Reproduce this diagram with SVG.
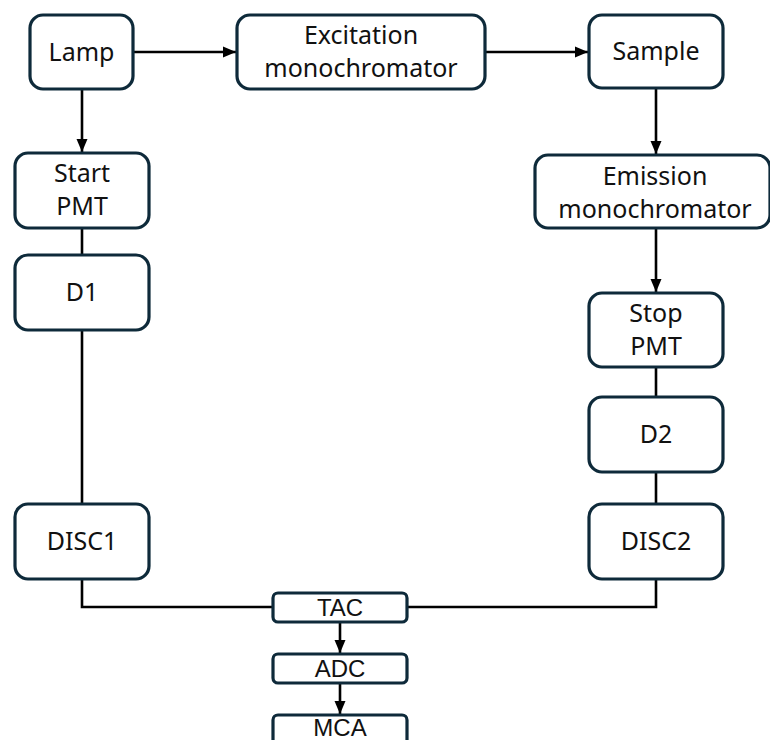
<svg xmlns="http://www.w3.org/2000/svg" width="770" height="740" viewBox="0 0 770 740">
<style>
.box{fill:#fff;stroke:#0e2a3a;stroke-width:3.2}
.t{font-family:"Noto Sans","Open Sans",sans-serif;font-size:25px;fill:#111;text-anchor:middle}
.s{font-family:"Liberation Sans",Arial,sans-serif;font-size:24px;fill:#111;text-anchor:middle}
.c{fill:none;stroke:#000;stroke-width:2.6}
</style>
<defs>
<marker id="ah" markerUnits="userSpaceOnUse" markerWidth="13" markerHeight="13" viewBox="0 0 13 13" refX="13" refY="6.5" orient="auto">
<path d="M0,1 L13,6.5 L0,12 Z" fill="#000"/>
</marker>
</defs>
<rect width="770" height="740" fill="#fff"/>
<g id="connectors">
<line class="c" x1="133" y1="52" x2="236" y2="52" marker-end="url(#ah)"/>
<line class="c" x1="485" y1="52" x2="588" y2="52" marker-end="url(#ah)"/>
<line class="c" x1="82" y1="89" x2="82" y2="152" marker-end="url(#ah)"/>
<line class="c" x1="656" y1="88" x2="656" y2="154" marker-end="url(#ah)"/>
<line class="c" x1="656" y1="228" x2="656" y2="292" marker-end="url(#ah)"/>
<line class="c" x1="82" y1="228" x2="82" y2="255"/>
<line class="c" x1="82" y1="330" x2="82" y2="504"/>
<line class="c" x1="656" y1="367" x2="656" y2="397"/>
<line class="c" x1="656" y1="472" x2="656" y2="504"/>
<path class="c" d="M82,579 V607 H273"/>
<path class="c" d="M656,579 V607 H407"/>
<line class="c" x1="340" y1="622" x2="340" y2="653" marker-end="url(#ah)"/>
<line class="c" x1="340" y1="683" x2="340" y2="714" marker-end="url(#ah)"/>
</g>
<g id="lamp"><rect class="box" x="30" y="15" width="103" height="74" rx="13"/><text class="t" x="81.5" y="61">Lamp</text></g>
<g id="excitation"><rect class="box" x="237" y="15" width="248" height="74" rx="13"/><text class="t" x="361" y="44">Excitation</text><text class="t" x="361" y="77">monochromator</text></g>
<g id="sample"><rect class="box" x="589" y="15" width="134" height="73" rx="13"/><text class="t" x="656" y="60">Sample</text></g>
<g id="emission"><rect class="box" x="535" y="155" width="235" height="73" rx="13"/><text class="t" x="655" y="185">Emission</text><text class="t" x="655" y="218">monochromator</text></g>
<g id="startpmt"><rect class="box" x="15" y="153" width="134" height="75" rx="13"/><text class="t" x="82" y="182">Start</text><text class="t" x="82" y="215">PMT</text></g>
<g id="d1"><rect class="box" x="15" y="255" width="134" height="75" rx="13"/><text class="t" x="82" y="301">D1</text></g>
<g id="disc1"><rect class="box" x="15" y="504" width="134" height="75" rx="13"/><text class="t" x="82" y="550">DISC1</text></g>
<g id="stoppmt"><rect class="box" x="589" y="293" width="134" height="74" rx="13"/><text class="t" x="656" y="322">Stop</text><text class="t" x="656" y="355">PMT</text></g>
<g id="d2"><rect class="box" x="589" y="397" width="134" height="75" rx="13"/><text class="t" x="656" y="443">D2</text></g>
<g id="disc2"><rect class="box" x="589" y="504" width="134" height="75" rx="13"/><text class="t" x="656" y="550">DISC2</text></g>
<g id="tac"><rect class="box" x="273" y="593" width="134" height="29" rx="5"/><text class="s" x="340" y="616">TAC</text></g>
<g id="adc"><rect class="box" x="273" y="654" width="134" height="29" rx="5"/><text class="s" x="340" y="677">ADC</text></g>
<g id="mca"><rect class="box" x="273" y="715" width="134" height="40" rx="5"/><text class="s" x="340" y="736">MCA</text></g>
</svg>
